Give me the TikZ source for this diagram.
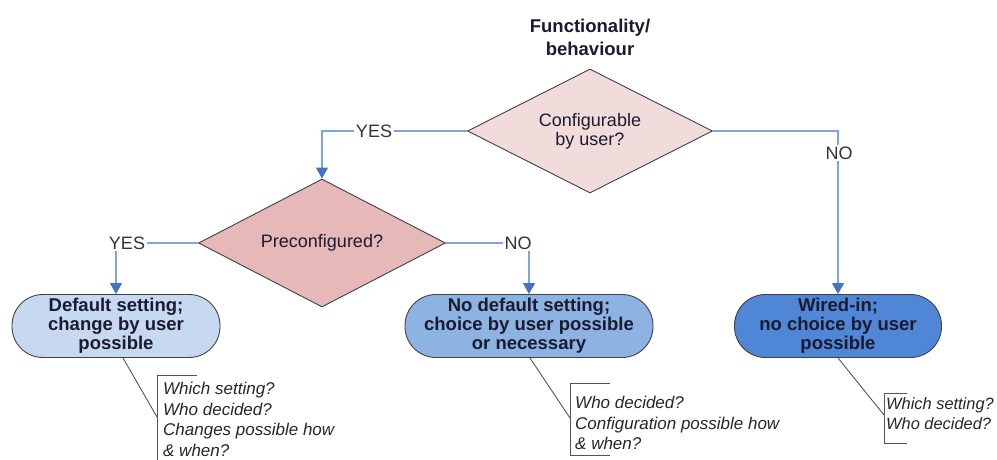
\documentclass[tikz,border=0pt]{standalone}
\usepackage{fontspec}
\setmainfont{Liberation Sans}
\usetikzlibrary{shapes.geometric,arrows.meta}
\definecolor{linkblue}{HTML}{7FA3DC}
\definecolor{tipblue}{HTML}{4472C4}
\definecolor{outline}{HTML}{404048}
\definecolor{inkdark}{HTML}{1A1A30}
\definecolor{pinklight}{HTML}{F2DCDB}
\definecolor{pinkdark}{HTML}{E6B8B7}
\definecolor{bluelight}{HTML}{C6D9F1}
\definecolor{bluemid}{HTML}{8DB3E2}
\definecolor{bluedark}{HTML}{4F86D6}
\begin{document}
\begin{tikzpicture}[x=1pt,y=-1pt,
  decision/.style={diamond, draw=outline, line width=0.9pt, aspect=2, inner sep=0pt,
    text=inkdark, align=center, font=\fontsize{18}{19}\selectfont},
  outcome/.style={draw=outline, line width=0.9pt, rounded corners=31pt,
    minimum height=63pt, inner sep=0pt, align=center, text=inkdark,
    font=\bfseries\fontsize{18.5}{19}\selectfont},
  flow/.style={draw=linkblue, line width=1.1pt, -{Triangle[width=12pt,length=11pt,color=tipblue]}},
  answer/.style={fill=white, inner sep=1.5pt, text=black!80, font=\fontsize{18}{19}\selectfont},
  callout/.style={draw=outline!90, line width=0.9pt},
  note/.style={anchor=north west, align=left, inner sep=0pt, text=black!85,
    font=\itshape\fontsize{17}{20.5}\selectfont}
]
\useasboundingbox (0,0) rectangle (997,459);

% title
\node[align=center, text=inkdark, font=\bfseries\fontsize{18.5}{23}\selectfont] (title) at (590,37) {Functionality/\\behaviour};

% decisions
\node[decision, fill=pinklight, minimum width=245pt, minimum height=124pt] (cfg) at (590,131) {Configurable\\by user?};
\node[decision, fill=pinkdark, minimum width=247pt, minimum height=128pt] (pre) at (322,243) {Preconfigured?};

% outcomes
\node[outcome, fill=bluelight, minimum width=208pt] (dflt) at (116,326) {Default setting;\\change by user\\possible};
\node[outcome, fill=bluemid, minimum width=248pt] (nodflt) at (529,326) {No default setting;\\choice by user possible\\or necessary};
\node[outcome, fill=bluedark, minimum width=207pt] (wired) at (838,326) {Wired-in;\\no choice by user\\possible};

% decision flow
\draw[flow] (cfg.west) -| (pre.north);
\draw[flow] (pre.west) -| (dflt.north);
\draw[flow] (pre.east) -| (nodflt.north);
\draw[flow] (cfg.east) -| (wired.north);

\node[answer] (yes1) at (374,131) {YES};
\node[answer] (yes2) at (127,243) {YES};
\node[answer] (no1) at (518,243) {NO};
\node[answer] (no2) at (839,153) {NO};

% callouts
\coordinate (b1) at (157,417);
\draw[callout] ([xshift=7pt]dflt.south) -- (b1);
\draw[callout] (197,375) -- (157,375) -- (157,462);
\node[note] (n1) at (163,382) {Which setting?\\Who decided?\\Changes possible how\\\& when?};

\coordinate (b2) at (570,418);
\draw[callout] ([xshift=1pt]nodflt.south) -- (b2);
\draw[callout] (610,383) -- (570,383) -- (570,455) -- (610,455);
\node[note] (n2) at (575,396) {Who decided?\\Configuration possible how\\\& when?};

\coordinate (b3) at (884,415);
\draw[callout] (wired.south) -- (b3);
\draw[callout] (907,393) -- (884,393) -- (884,443) -- (907,443);
\node[note, font=\itshape\fontsize{16.4}{20}\selectfont] (n3) at (886,397) {Which setting?\\Who decided?};
\end{tikzpicture}
\end{document}
